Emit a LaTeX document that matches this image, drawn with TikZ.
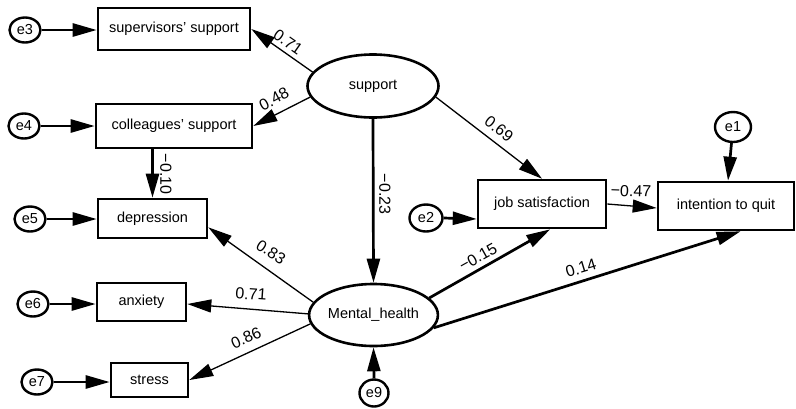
\documentclass[tikz,border=0pt]{standalone}
\usepackage{fontspec}
\setmainfont{Liberation Sans}
\usetikzlibrary{arrows.meta,shapes.geometric}
\begin{document}
\begin{tikzpicture}[x=1pt,y=-1pt,
  obs/.style={draw,line width=2.6pt,rectangle,inner sep=0pt,font=\fontsize{14.5}{17}\selectfont},
  lat/.style={draw,line width=2.6pt,ellipse,inner sep=0pt,font=\fontsize{14.5}{17}\selectfont},
  err/.style={draw,line width=2.4pt,ellipse,inner sep=0pt,minimum width=31pt,minimum height=25pt,font=\fontsize{14.5}{17}\selectfont},
  thin/.style={line width=1.3pt,-{Triangle[length=24pt,width=13pt]}},
  thick/.style={line width=2.7pt,-{Triangle[length=24pt,width=13pt]}},
  lbl/.style={font=\fontsize{16}{18}\selectfont,inner sep=0pt}]
\useasboundingbox (0,0) rectangle (796,408);
\fill[white] (0,0) rectangle (796,408);
% observed
\node[obs,minimum width=152pt,minimum height=42pt] (sup) at (174,29) {supervisors’ support};
\node[obs,minimum width=156pt,minimum height=44pt] (coll) at (174,126) {colleagues’ support};
\node[obs,minimum width=109pt,minimum height=39pt] (dep) at (152.5,218.5) {depression};
\node[obs,minimum width=89pt,minimum height=38pt] (anx) at (141.5,302) {anxiety};
\node[obs,minimum width=77pt,minimum height=34pt] (stress) at (149.5,380) {stress};
\node[obs,minimum width=128pt,minimum height=48pt] (js) at (542,204) {job satisfaction};
\node[obs,minimum width=136pt,minimum height=48pt] (iq) at (726,206) {intention to quit};
% latent
\node[lat,minimum width=131pt,minimum height=63pt] (support) at (373,86) {support};
\node[lat,minimum width=121pt,minimum height=62pt] (mh) at (373.5,315) {Mental\_health};
% errors
\node[err] (e3) at (25,30) {e3};
\node[err] (e4) at (24,126) {e4};
\node[err] (e5) at (30,219) {e5};
\node[err] (e6) at (33,304) {e6};
\node[err] (e7) at (37,382) {e7};
\node[err,minimum width=29pt,minimum height=27pt] (e9) at (374,393) {e9};
\node[err,minimum width=33pt,minimum height=27pt] (e2) at (426,218) {e2};
\node[err,minimum width=36pt,minimum height=30pt] (e1) at (733,127) {e1};
% error arrows
\draw[thick] (e3.east) -- (e3.east -| sup.west);
\draw[thick] (e4.east) -- (e4.east -| coll.west);
\draw[thick] (e5.east) -- (e5.east -| dep.west);
\draw[thick] (e6.east) -- (e6.east -| anx.west);
\draw[thick] (e7.east) -- (e7.east -| stress.west);
\draw[thick] (e2.east) -- ([yshift=-1pt]e2.east -| js.west);
\draw[thick] (e9.north) -- (mh.south);
\draw[thick] (e1) -- ([xshift=2pt]iq.north);
% structural paths
\draw[thin] (support.167) -- (sup.east);
\draw[thin] (support.190) -- (coll.east);
\draw[thick] (coll.south -| dep.north) -- (dep.north);
\draw[thick] (support.south) -- (mh.north);
\draw[thin] (support.350) -- (js.north);
\draw[thin] (mh.168) -- (dep.-9);
\draw[thin] (mh.179) -- ([yshift=-2pt]anx.east);
\draw[thin] (mh.188) -- (stress.east);
\draw[thick] (mh.17) -- (js.-72);
\draw[thick] (mh.-12) -- (iq.-60);
\draw[thin] (js.east) -- ([yshift=-2pt]iq.west);
% labels
\node[lbl,rotate=-35] (l1) at (288,42) {0.71};
\node[lbl,rotate=28] (l2) at (274,99) {0.48};
\node[lbl,rotate=-90] (l3) at (166,174) {−0.10};
\node[lbl,rotate=-90] (l4) at (385,194) {−0.23};
\node[lbl,rotate=-38] (l5) at (499,129) {0.69};
\node[lbl,rotate=-2] (l6) at (631,191) {−0.47};
\node[lbl,rotate=29] (l7) at (478,257) {−0.15};
\node[lbl,rotate=17] (l8) at (581,268) {0.14};
\node[lbl,rotate=-33] (l9) at (271,252) {0.83};
\node[lbl,rotate=-4] (l10) at (251,294) {0.71};
\node[lbl,rotate=24] (l11) at (246,338) {0.86};
\end{tikzpicture}
\end{document}
